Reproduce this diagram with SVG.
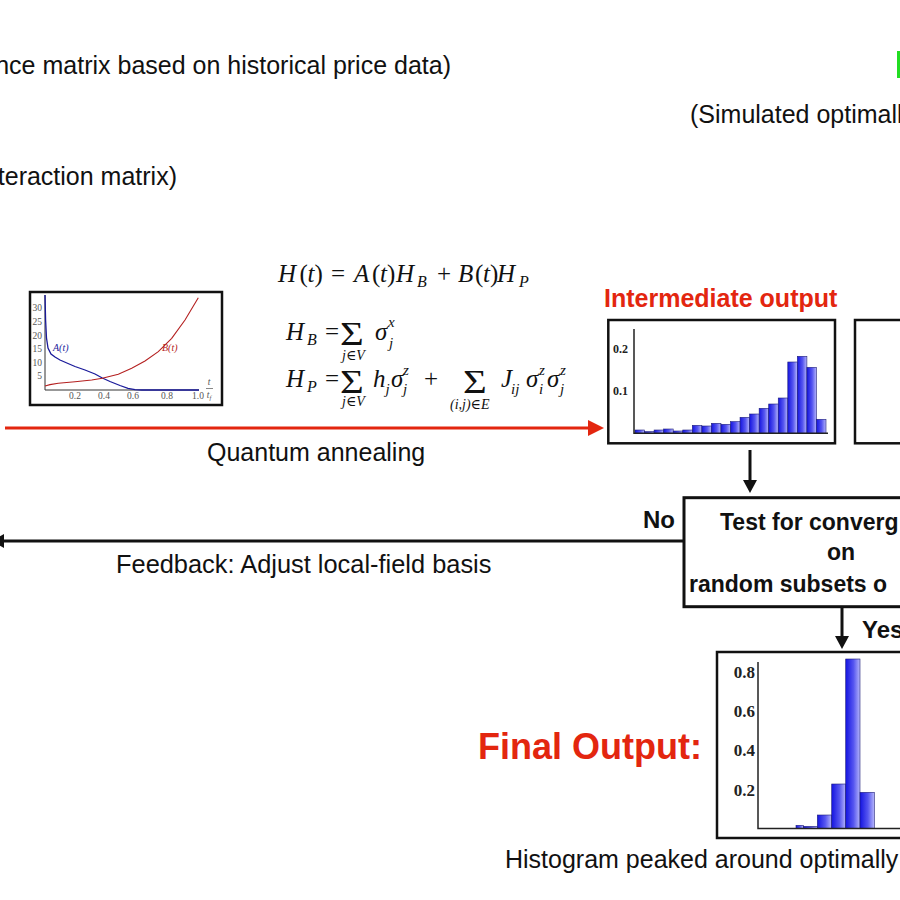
<svg xmlns="http://www.w3.org/2000/svg" width="900" height="900" viewBox="0 0 900 900">
<style>
.t{font-family:"Liberation Sans",Arial,Helvetica,sans-serif;font-size:25px;fill:#111}
.b{font-family:"Liberation Sans",Arial,Helvetica,sans-serif;font-weight:bold;fill:#111}
.red{fill:#e3260f}
.m{font-family:"Liberation Serif","DejaVu Serif",serif;font-size:25px;fill:#111}
.i{font-style:italic}
.sb{font-family:"Liberation Serif","DejaVu Serif",serif;font-style:italic;font-size:16px;fill:#111}
.sp{font-family:"Liberation Serif","DejaVu Serif",serif;font-style:italic;font-size:15px;fill:#111}
.lim{font-family:"Liberation Serif","DejaVu Serif",serif;font-style:italic;font-size:14px;fill:#111}
.sig{font-family:"Liberation Serif","DejaVu Serif",serif;font-size:34px;fill:#111}
.tick{font-family:"Liberation Serif","DejaVu Serif",serif;font-size:9.5px;fill:#555}
.hl{font-family:"Liberation Serif","DejaVu Serif",serif;font-weight:bold;fill:#222}
.frame{fill:#fff;stroke:#111;stroke-width:2.5}
.bar{fill:url(#barg);stroke:#20207a;stroke-width:0.6}
.ax{stroke:#222;stroke-width:1.5;fill:none}
</style>
<defs>
<linearGradient id="barg" x1="0" y1="0" x2="1" y2="0">
<stop offset="0" stop-color="#1414e0"/>
<stop offset="0.55" stop-color="#5656f0"/>
<stop offset="1" stop-color="#b4b4fa"/>
</linearGradient>
</defs>
<rect width="900" height="900" fill="#fff"/>

<g id="top-texts">
<text class="t" x="451" y="74" text-anchor="end">nce matrix based on historical price data)</text>
<text class="t" x="177" y="185" text-anchor="end">teraction matrix)</text>
<text class="t" x="690" y="123">(Simulated optimall</text>
<rect x="897" y="51" width="4" height="27" fill="#22dd22"/>
</g>

<g id="schedule-plot">
<rect class="frame" x="30" y="292" width="192" height="113" stroke-width="2"/>
<line x1="45" y1="295" x2="45" y2="390" stroke="#333" stroke-width="1"/>
<line x1="45" y1="390" x2="199" y2="390" stroke="#333" stroke-width="1"/>
<g class="tick" text-anchor="end">
<text x="42" y="311">30</text><text x="42" y="325">25</text><text x="42" y="339">20</text>
<text x="42" y="352">15</text><text x="42" y="366">10</text><text x="42" y="379">5</text>
</g>
<g class="tick" text-anchor="middle">
<text x="75" y="399">0.2</text><text x="104" y="399">0.4</text><text x="133" y="399">0.6</text>
<text x="167" y="399">0.8</text><text x="198" y="399">1.0</text>
</g>
<text class="tick" x="209" y="385" text-anchor="middle" font-style="italic">t</text>
<line x1="206" y1="388.5" x2="213" y2="388.5" stroke="#555" stroke-width="0.7"/>
<text class="tick" x="209" y="398" text-anchor="middle" font-style="italic">t<tspan font-size="6.5" dy="1.5">f</tspan></text>
<polyline fill="none" stroke="#1a1a9a" stroke-width="1.3" points="45,295 45.6,320 46.5,338 48,348 51,354 55,357 60,360 68,363.5 75,366.5 85,370 95,374 102.3,378 110,381.5 120,385.5 128,388.3 135,389.7 142,390 199,390"/>
<polyline fill="none" stroke="#b42020" stroke-width="1.1" points="45,386 50,384.6 58.3,383.3 75,381.7 91.7,380 102.3,378.3 118.3,374.3 131.7,368.3 145,361 158.3,351.7 171.7,338.3 185,320 198.3,297.7"/>
<text x="53" y="351" font-family="Liberation Serif,serif" font-style="italic" font-size="10" fill="#1a1a9a">A(t)</text>
<text x="162" y="351" font-family="Liberation Serif,serif" font-style="italic" font-size="10" fill="#b42020">B(t)</text>
</g>

<g id="equations">
<text class="m" y="281.7"><tspan class="i" x="278">H</tspan><tspan x="299.5">(</tspan><tspan class="i" x="307.5">t</tspan><tspan x="314.5">)</tspan><tspan x="331">=</tspan><tspan class="i" x="354">A</tspan><tspan x="372">(</tspan><tspan class="i" x="380">t</tspan><tspan x="387">)</tspan><tspan class="i" x="396">H</tspan><tspan x="437">+</tspan><tspan class="i" x="458">B</tspan><tspan x="475">(</tspan><tspan class="i" x="483">t</tspan><tspan x="490">)</tspan><tspan class="i" x="497">H</tspan></text>
<text class="sb" y="287"><tspan x="417">B</tspan><tspan x="519">P</tspan></text>

<text class="m" y="340"><tspan class="i" x="286">H</tspan><tspan x="325">=</tspan><tspan class="i" x="375">σ</tspan></text>
<text class="sb" x="307" y="345">B</text>
<text class="sig" transform="translate(340,345) scale(1.2,1)">Σ</text>
<text class="sp" x="388" y="327">x</text>
<text class="sp" x="389" y="348">j</text>
<text class="lim" x="342" y="359.5">j∈V</text>

<text class="m" y="386.7"><tspan class="i" x="286">H</tspan><tspan x="325">=</tspan><tspan class="i" x="373">h</tspan><tspan class="i" x="391">σ</tspan><tspan x="424">+</tspan><tspan class="i" x="501">J</tspan><tspan class="i" x="526">σ</tspan><tspan class="i" x="547">σ</tspan></text>
<text class="sb" x="307" y="392">P</text>
<text class="sig" transform="translate(340,393) scale(1.2,1)">Σ</text>
<text class="sig" transform="translate(463,393) scale(1.2,1)">Σ</text>
<text class="sp" y="394"><tspan x="385.5">j</tspan><tspan x="403">j</tspan><tspan x="511">ij</tspan><tspan x="539">i</tspan><tspan x="560">j</tspan></text>
<text class="sp" y="375"><tspan x="403">z</tspan><tspan x="539">z</tspan><tspan x="560">z</tspan></text>
<text class="lim" x="342" y="405.5">j∈V</text>
<text class="lim" x="450" y="408.5">(i,j)∈E</text>
</g>

<g id="intermediate-output">
<text class="b red" x="604" y="307" font-size="25">Intermediate output</text>
<rect class="frame" x="608.3" y="320" width="226.7" height="123.3"/>
<g>
<rect class="bar" x="635" y="430" width="9.55" height="3.3"/>
<rect class="bar" x="644.55" y="431.6" width="9.55" height="1.7"/>
<rect class="bar" x="654.1" y="430" width="9.55" height="3.3"/>
<rect class="bar" x="663.65" y="429" width="9.55" height="4.3"/>
<rect class="bar" x="673.2" y="431" width="9.55" height="2.3"/>
<rect class="bar" x="682.75" y="430" width="9.55" height="3.3"/>
<rect class="bar" x="692.3" y="425.3" width="9.55" height="8"/>
<rect class="bar" x="701.85" y="426" width="9.55" height="7.3"/>
<rect class="bar" x="711.4" y="423.3" width="9.55" height="10"/>
<rect class="bar" x="720.95" y="424.3" width="9.55" height="9"/>
<rect class="bar" x="730.5" y="421.6" width="9.55" height="11.7"/>
<rect class="bar" x="740.05" y="417.3" width="9.55" height="16"/>
<rect class="bar" x="749.6" y="414" width="9.55" height="19.3"/>
<rect class="bar" x="759.15" y="408.3" width="9.55" height="25"/>
<rect class="bar" x="768.7" y="404" width="9.55" height="29.3"/>
<rect class="bar" x="778.25" y="398" width="9.55" height="35.3"/>
<rect class="bar" x="787.8" y="362" width="9.55" height="71.3"/>
<rect class="bar" x="797.35" y="356.3" width="9.55" height="77"/>
<rect class="bar" x="806.9" y="367.3" width="9.55" height="66"/>
<rect class="bar" x="816.45" y="419.3" width="9.55" height="14"/>
</g>
<polyline class="ax" points="634,329 634,433.3 828,433.3"/>
<text class="hl" x="628" y="353" font-size="12" text-anchor="end">0.2</text>
<text class="hl" x="628" y="394.5" font-size="12" text-anchor="end">0.1</text>
<rect class="frame" x="855" y="320" width="80" height="123.3"/>
</g>

<g id="convergence-test">
<rect x="684" y="497.7" width="300" height="109" fill="#fff" stroke="#111" stroke-width="3"/>
<text class="b" x="720" y="530" font-size="23">Test for converg</text>
<text class="b" x="827" y="559.5" font-size="23">on</text>
<text class="b" x="689" y="592.3" font-size="23">random subsets o</text>
</g>

<g id="final-output">
<text class="b red" x="478" y="759" font-size="36">Final Output:</text>
<rect class="frame" x="717" y="652" width="260" height="186"/>
<rect class="bar" x="796" y="825.3" width="7.3" height="3.2"/>
<rect class="bar" x="803.3" y="826.3" width="14" height="2.2"/>
<rect class="bar" x="817.3" y="815" width="14.4" height="13.5"/>
<rect class="bar" x="831.7" y="784" width="14" height="44.5"/>
<rect class="bar" x="845.7" y="659" width="14.3" height="169.5"/>
<rect class="bar" x="860" y="792.3" width="14.3" height="36.2"/>
<polyline class="ax" points="758,662 758,828.5 905,828.5"/>
<g class="hl" font-size="17" text-anchor="end">
<text x="755" y="678.3">0.8</text>
<text x="755" y="716.7">0.6</text>
<text x="755" y="756">0.4</text>
<text x="755" y="795.7">0.2</text>
</g>
<text class="t" x="505" y="868">Histogram peaked around optimally</text>
</g>

<g id="connectors">
<line x1="5" y1="428" x2="590" y2="428" stroke="#e3260f" stroke-width="3"/>
<polygon points="604,428 588,420 588,436" fill="#e3260f"/>
<text class="t" x="207" y="461">Quantum annealing</text>

<line x1="750" y1="450" x2="750" y2="482" stroke="#111" stroke-width="3"/>
<polygon points="750,493 743,480 757,480" fill="#111"/>

<line x1="684" y1="541" x2="3" y2="541" stroke="#111" stroke-width="3"/>
<polygon points="-9,541 4,534 4,548" fill="#111"/>
<text class="b" x="643" y="528" font-size="24">No</text>
<text class="t" x="116" y="573" style="font-size:25.4px">Feedback: Adjust local-field basis</text>

<line x1="842" y1="607" x2="842" y2="637" stroke="#111" stroke-width="3"/>
<polygon points="842,649 835,636 849,636" fill="#111"/>
<text class="b" x="862" y="638" font-size="24">Yes</text>
</g>
</svg>
